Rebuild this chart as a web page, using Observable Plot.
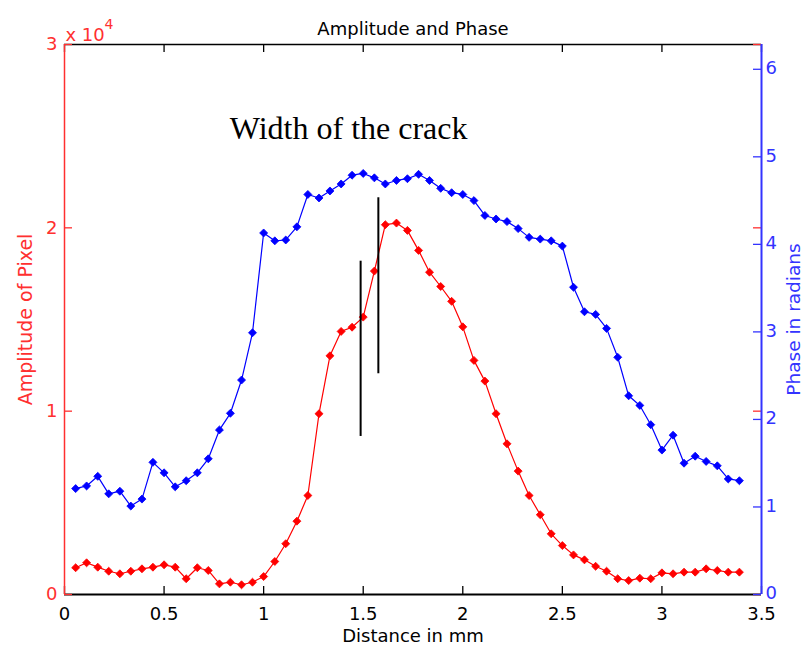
<!DOCTYPE html>
<html><head><meta charset="utf-8">
<script src="https://cdn.jsdelivr.net/npm/d3@7"></script>
<script src="https://cdn.jsdelivr.net/npm/@observablehq/plot@0.6"></script>
<style>
body{margin:0;background:#fff;}
#wrap{position:relative;width:804px;height:651px;}
#wrap svg{position:absolute;left:0;top:0;}
</style></head><body><div id="wrap"></div>
<script>
// Distance in mm (x positions of samples)
const distance = [0.056,0.111,0.167,0.222,0.278,0.333,0.389,0.444,0.5,0.556,
  0.611,0.667,0.722,0.778,0.833,0.889,0.944,1.0,1.056,1.111,
  1.167,1.222,1.278,1.333,1.389,1.444,1.5,1.556,1.611,1.667,
  1.722,1.778,1.833,1.889,1.944,2.0,2.056,2.111,2.167,2.222,
  2.278,2.333,2.389,2.444,2.5,2.556,2.611,2.667,2.722,2.778,
  2.833,2.889,2.944,3.0,3.056,3.111,3.167,3.222,3.278,3.333,3.389];
// Amplitude of pixel (left axis)
const amplitude = [1460,1730,1490,1270,1130,1270,1400,1490,1620,1490,
  860,1460,1310,580,670,530,670,980,1800,2770,
  4000,5400,9860,13020,14350,14580,15130,17640,20170,20260,
  19860,18770,17580,16800,15990,14600,12770,11640,9860,8220,
  6730,5400,4350,3310,2670,2160,1890,1540,1270,860,
  760,890,860,1180,1130,1220,1220,1400,1310,1220,1220];
// Phase in radians (right axis)
const phase = [1.21,1.24,1.35,1.15,1.18,1.01,1.09,1.51,1.39,1.23,
  1.30,1.39,1.55,1.88,2.07,2.45,2.99,4.13,4.04,4.05,
  4.20,4.57,4.53,4.61,4.69,4.79,4.81,4.76,4.69,4.73,
  4.75,4.80,4.73,4.64,4.59,4.57,4.50,4.33,4.29,4.26,
  4.18,4.08,4.06,4.04,3.98,3.51,3.23,3.20,3.04,2.71,
  2.27,2.16,1.94,1.65,1.82,1.50,1.58,1.52,1.47,1.32,1.30];
const xTicks = [0,0.5,1,1.5,2,2.5,3,3.5];
const ampTicks = [0,10000,20000,30000];
const phaseTicks = [0,1,2,3,4,5,6];
// crack width markers (black vertical lines)
const crackX = [1.487,1.576];
const crackLow = [8620,12040];
const crackHigh = [18180,21640];
const noteText = ["Width of the crack"];
const noteX = [0.83];
const noteY = [25410];

const W=804,H=651,mL=64,mR=43,mT=44,mB=57;
const fw=W-mL-mR, fh=H-mT-mB, tk=8;
const RED="#ff0000", REDAX="#ff3030", BLUE="#0000ff", BLUEAX="#3333ff";
const FONT="DejaVu Sans";

const ampData = distance.map((d,i)=>({d, v: amplitude[i]}));
const phData = distance.map((d,i)=>({d, v: phase[i]}));
const crack = crackX.map((x,i)=>({x, lo: crackLow[i], hi: crackHigh[i]}));
const note = noteText.map((t,i)=>({t, x: noteX[i], y: noteY[i]}));
const common = {width:W, height:H, marginLeft:mL, marginRight:mR, marginTop:mT, marginBottom:mB};

const plotA = Plot.plot({
  ...common,
  style:{fontFamily:FONT, fontSize:"18px", background:"white", overflow:"visible"},
  x:{domain:[0,3.5]},
  y:{domain:[0,30000]},
  marks:[
    Plot.ruleY([30000],{y:d=>d, stroke:"black", strokeWidth:1.5}),
    Plot.ruleY([0],{y:d=>d, stroke:"black", strokeWidth:2}),
    Plot.ruleX(xTicks,{x:d=>d, insetTop:fh-tk, stroke:"black", strokeWidth:1.3}),
    Plot.ruleX(xTicks,{x:d=>d, insetBottom:fh-tk, stroke:"black", strokeWidth:1.3}),
    Plot.axisX(xTicks,{tickSize:0, tickPadding:13, tickFormat:d=>String(d), fontSize:18, color:"black", label:null}),
    Plot.ruleY(ampTicks,{y:d=>d, insetRight:fw-tk, stroke:REDAX, strokeWidth:1.3}),
    Plot.ruleY(ampTicks,{y:d=>d, insetLeft:fw-tk, stroke:REDAX, strokeWidth:1.3}),
    Plot.axisY(ampTicks,{anchor:"left", tickSize:0, tickPadding:7, tickFormat:d=>String(d/10000), fontSize:18, color:REDAX, label:null}),
    Plot.ruleX([0],{x:d=>d, stroke:REDAX, strokeWidth:1.5}),
    Plot.line(ampData,{x:"d", y:"v", stroke:RED, strokeWidth:1.2}),
    Plot.dot(ampData,{x:"d", y:"v", symbol:"diamond2", r:3.6, fill:RED, stroke:RED, strokeWidth:0.8}),
    Plot.ruleX(crack,{x:"x", y1:"lo", y2:"hi", stroke:"black", strokeWidth:2}),
    Plot.text(note,{x:"x", y:"y", text:"t", textAnchor:"start", fontFamily:"Liberation Serif", fontSize:32, fill:"black"}),
    Plot.text(["Amplitude and Phase"],{frameAnchor:"top", dy:-22, text:d=>d, textAnchor:"middle", fontSize:18, fill:"black"}),
    Plot.text(["Distance in mm"],{frameAnchor:"bottom", dy:47, text:d=>d, textAnchor:"middle", fontSize:18, fill:"black"}),
    Plot.text(["Amplitude of Pixel"],{frameAnchor:"left", dx:-39, rotate:-90, text:d=>d, textAnchor:"middle", fontSize:19, fill:REDAX}),
    Plot.text(["x 10"],{frameAnchor:"top-left", dx:1, dy:-16, textAnchor:"start", text:d=>d, fontSize:18, fill:REDAX}),
    Plot.text(["4"],{frameAnchor:"top-left", dx:40, dy:-25, textAnchor:"start", text:d=>d, fontSize:14, fill:REDAX})
  ]
});

const plotB = Plot.plot({
  ...common,
  style:{fontFamily:FONT, fontSize:"18px", background:"transparent", overflow:"visible"},
  x:{domain:[0,3.5], axis:null},
  y:{domain:[0,2*Math.PI]},
  marks:[
    Plot.ruleX([3.5],{x:d=>d, stroke:BLUEAX, strokeWidth:2}),
    Plot.ruleY(phaseTicks,{y:d=>d, insetLeft:fw-tk, stroke:BLUEAX, strokeWidth:1.3}),
    Plot.axisY(phaseTicks,{anchor:"right", tickSize:0, tickPadding:4, tickFormat:d=>String(d), fontSize:18, color:BLUEAX, label:null, dy:-1}),
    Plot.text(["Phase in radians"],{frameAnchor:"right", dx:33, rotate:-90, text:d=>d, textAnchor:"middle", fontSize:18.5, fill:BLUEAX}),
    Plot.line(phData,{x:"d", y:"v", stroke:BLUE, strokeWidth:1.2}),
    Plot.dot(phData,{x:"d", y:"v", symbol:"diamond2", r:3.6, fill:BLUE, stroke:BLUE, strokeWidth:0.8})
  ]
});

const wrap = document.getElementById("wrap");
wrap.append(plotA, plotB);
</script></body></html>
